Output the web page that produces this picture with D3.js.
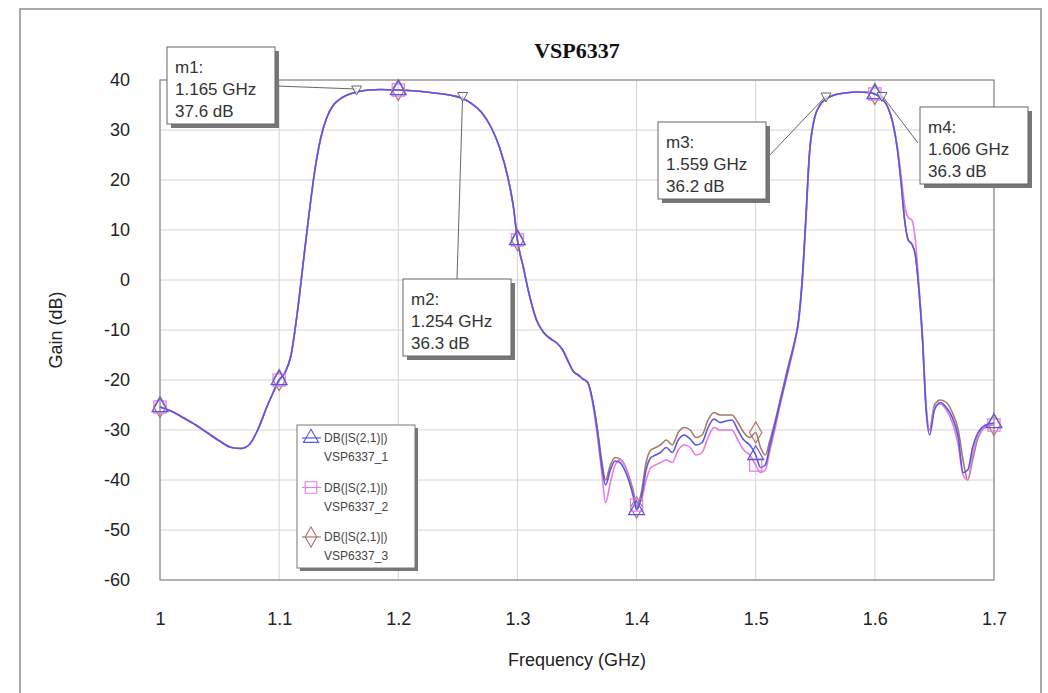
<!DOCTYPE html>
<html><head><meta charset="utf-8">
<script src="https://cdn.jsdelivr.net/npm/d3@7"></script>
<style>body{margin:0;background:#fff}svg{display:block}</style>
</head><body>
<svg id="c" width="1048" height="693"></svg>
<script>
const title = "VSP6337";
const xTicks = [1, 1.1, 1.2, 1.3, 1.4, 1.5, 1.6, 1.7];
const yTicks = [40, 30, 20, 10, 0, -10, -20, -30, -40, -50, -60];
const markerFreqs = [1.0, 1.1, 1.2, 1.3, 1.4, 1.5, 1.6, 1.7];
const freq = [
1.000,1.010,1.020,1.030,1.040,1.050,1.060,1.068,1.075,1.082,
1.090,1.095,1.100,1.105,1.110,1.115,1.120,1.125,1.130,1.135,
1.140,1.145,1.150,1.157,1.165,1.175,1.185,1.200,1.215,1.230,
1.245,1.254,1.262,1.270,1.278,1.285,1.292,1.297,1.300,1.305,
1.310,1.316,1.322,1.328,1.333,1.338,1.343,1.347,1.351,1.355,
1.359,1.363,1.367,1.371,1.374,1.378,1.382,1.386,1.390,1.394,
1.398,1.400,1.404,1.408,1.412,1.416,1.420,1.425,1.430,1.435,
1.440,1.445,1.450,1.455,1.460,1.465,1.470,1.475,1.480,1.485,
1.490,1.495,1.500,1.504,1.508,1.512,1.516,1.520,1.524,1.528,
1.532,1.536,1.539,1.542,1.545,1.549,1.554,1.559,1.566,1.575,
1.585,1.595,1.600,1.606,1.611,1.615,1.619,1.622,1.625,1.628,
1.631,1.634,1.637,1.640,1.643,1.646,1.650,1.655,1.660,1.665,
1.670,1.674,1.678,1.682,1.686,1.690,1.695,1.700];
const gain1 = [
-25.4,-26.3,-27.6,-29.0,-30.6,-32.2,-33.5,-33.7,-32.9,-30.0,
-25.2,-22.5,-20.0,-18.5,-15.0,-7.0,3.0,13.0,22.0,28.5,
32.5,34.8,36.0,37.0,37.6,38.0,38.1,38.0,37.8,37.4,
36.9,36.3,35.2,33.5,30.5,26.5,20.5,14.0,8.0,2.5,
-3.0,-8.0,-10.5,-11.8,-12.6,-14.0,-16.5,-18.3,-19.0,-19.8,
-20.5,-24.0,-30.0,-37.5,-41.0,-38.0,-36.2,-36.5,-38.0,-40.5,
-44.0,-46.0,-43.5,-38.0,-35.5,-35.0,-34.5,-33.5,-34.5,-32.0,
-31.0,-31.8,-33.0,-32.5,-29.5,-27.8,-28.5,-28.2,-28.0,-30.0,
-32.0,-33.0,-35.0,-37.5,-37.0,-33.0,-29.0,-25.0,-21.0,-17.0,
-13.0,-8.0,0.0,12.0,25.0,32.0,35.0,36.2,37.0,37.4,
37.6,37.5,37.2,36.3,34.5,31.5,26.0,19.5,12.0,8.0,
7.2,5.0,-2.0,-12.0,-26.0,-31.0,-26.0,-24.5,-25.5,-27.5,
-31.5,-38.5,-38.0,-33.5,-30.8,-29.5,-28.8,-28.6];
const gain2 = [
-25.4,-26.3,-27.6,-29.0,-30.6,-32.2,-33.5,-33.7,-32.9,-30.0,
-25.2,-22.5,-20.0,-18.5,-15.0,-7.0,3.0,13.0,22.0,28.5,
32.5,34.8,36.0,37.0,37.6,38.0,38.1,38.0,37.8,37.4,
36.9,36.3,35.2,33.5,30.5,26.5,20.5,14.0,8.0,2.5,
-3.0,-8.0,-10.5,-11.8,-12.6,-14.0,-16.5,-18.3,-19.0,-19.8,
-20.5,-24.5,-31.0,-39.0,-44.5,-40.5,-37.0,-36.0,-37.0,-40.0,
-43.5,-45.0,-44.0,-40.0,-37.5,-37.0,-36.5,-36.0,-36.5,-34.0,
-33.0,-33.5,-35.0,-34.5,-31.5,-29.5,-30.0,-30.0,-30.0,-32.0,
-34.0,-35.0,-37.0,-38.5,-38.0,-34.0,-30.0,-25.5,-21.5,-17.5,
-13.5,-8.5,-1.0,11.0,24.5,32.0,35.0,36.2,37.0,37.4,
37.6,37.5,37.2,36.3,34.5,31.5,26.5,21.0,15.0,12.5,
12.0,8.0,-1.0,-11.0,-25.0,-30.0,-25.5,-24.8,-26.0,-28.5,
-33.0,-39.0,-40.0,-35.0,-31.5,-30.0,-29.0,-29.0];
const gain3 = [
-25.4,-26.3,-27.6,-29.0,-30.6,-32.2,-33.5,-33.7,-32.9,-30.0,
-25.2,-22.5,-20.0,-18.5,-15.0,-7.0,3.0,13.0,22.0,28.5,
32.5,34.8,36.0,37.0,37.6,38.0,38.1,38.0,37.8,37.4,
36.9,36.3,35.2,33.5,30.5,26.5,20.5,14.0,8.0,2.5,
-3.0,-8.0,-10.5,-11.8,-12.6,-14.0,-16.5,-18.3,-19.0,-19.8,
-20.5,-24.0,-29.5,-36.5,-40.0,-37.0,-35.5,-35.8,-37.0,-39.5,
-43.0,-45.5,-42.5,-36.5,-34.0,-33.5,-33.0,-32.0,-33.0,-30.5,
-29.5,-30.0,-31.5,-31.0,-28.0,-26.5,-27.0,-27.0,-27.0,-28.5,
-30.5,-31.5,-30.5,-33.5,-35.0,-32.0,-28.5,-24.5,-20.5,-16.5,
-13.0,-8.0,0.0,12.0,25.0,32.0,35.0,36.2,37.0,37.4,
37.6,37.5,37.2,36.3,34.5,31.5,26.0,19.5,12.0,8.0,
7.2,5.0,-2.0,-12.0,-25.5,-30.0,-25.0,-24.0,-24.5,-26.5,
-30.0,-36.0,-40.0,-36.0,-32.0,-30.0,-29.2,-29.0];
const seriesNames = ["VSP6337_1", "VSP6337_2", "VSP6337_3"];
const seriesColors = ["#5858e0", "#e47ce4", "#a87868"];
const seriesSymbols = ["triangle", "square", "diamond"];
const mNames = ["m1", "m2", "m3", "m4"];
const mFreq = [1.165, 1.254, 1.559, 1.606];
const mGain = [37.6, 36.3, 36.2, 36.3];
const mBox = [[167,47],[403,279],[658,122],[920,107]]; // box top-left
const mAnchor = [[276,86],[457,279],[767,158],[918,143]]; // leader start

const svg = d3.select("#c");
const font = "'Liberation Sans', Arial, sans-serif";
svg.append("path").attr("d","M20,700 L20,9 L1041,9 L1041,700")
  .attr("fill","none").attr("stroke","#a8a8a8").attr("stroke-width",2);

const L=160,R=994,T=80,B=580;
const x = d3.scaleLinear().domain([1,1.7]).range([L,R]);
const y = d3.scaleLinear().domain([-60,40]).range([B,T]);

const g = svg.append("g");
g.selectAll("line.vx").data(xTicks).join("line")
  .attr("x1",d=>x(d)).attr("x2",d=>x(d)).attr("y1",T).attr("y2",B)
  .attr("stroke","#d4d4d4").attr("stroke-width",1);
g.selectAll("line.hy").data(yTicks).join("line")
  .attr("y1",d=>y(d)).attr("y2",d=>y(d)).attr("x1",L).attr("x2",R)
  .attr("stroke","#d4d4d4").attr("stroke-width",1);
svg.append("rect").attr("x",L).attr("y",T).attr("width",R-L).attr("height",B-T)
  .attr("fill","none").attr("stroke","#8c8c8c").attr("stroke-width",1.2);

const xAxis = svg.append("g").attr("transform",`translate(0,${B})`)
  .call(d3.axisBottom(x).tickValues(xTicks).tickFormat(d=>String(d)).tickSize(0).tickPadding(32));
const yAxis = svg.append("g").attr("transform",`translate(${L},0)`)
  .call(d3.axisLeft(y).tickValues(yTicks).tickFormat(d=>String(d)).tickSize(0).tickPadding(30));
[xAxis,yAxis].forEach(a=>{
  a.select(".domain").remove();
  a.selectAll("text").attr("font-family",font).attr("font-size",18).attr("fill","#222");
});

svg.append("text").attr("x",577).attr("y",58).attr("text-anchor","middle")
  .attr("font-family","'Liberation Serif', 'Times New Roman', serif").attr("font-weight","bold")
  .attr("font-size",22).attr("fill","#111").text(title);
svg.append("text").attr("x",577).attr("y",666).attr("text-anchor","middle")
  .attr("font-family",font).attr("font-size",18).attr("fill","#222").text("Frequency (GHz)");
svg.append("text").attr("transform","translate(62,330) rotate(-90)").attr("text-anchor","middle")
  .attr("font-family",font).attr("font-size",18).attr("fill","#222").text("Gain (dB)");

const gains = [gain1, gain2, gain3];
const symMap = {triangle:d3.symbolTriangle, square:d3.symbolSquare, diamond:d3.symbolDiamond};
const symSize = {triangle:110, square:150, diamond:130};
const line = d3.line().x(d=>x(d[0])).y(d=>y(d[1])).curve(d3.curveMonotoneX);
const plot = svg.append("g");
[2,1,0].forEach(i=>{
  const data = freq.map((f,k)=>[f,gains[i][k]]);
  plot.append("path").datum(data).attr("d",line).attr("fill","none")
    .attr("stroke",seriesColors[i]).attr("stroke-width",1.6).attr("stroke-linejoin","round");
});
[2,1,0].forEach(i=>{
  const data = freq.map((f,k)=>[f,gains[i][k]]).filter(d=>markerFreqs.some(m=>Math.abs(m-d[0])<1e-9));
  plot.selectAll(null).data(data).join("path")
    .attr("d",d3.symbol(symMap[seriesSymbols[i]],symSize[seriesSymbols[i]]))
    .attr("transform",d=>`translate(${x(d[0])},${y(d[1])})`)
    .attr("fill","none").attr("stroke",seriesColors[i]).attr("stroke-width",1.2);
});

const ann = svg.append("g");
mNames.forEach((n,i)=>{
  const px=x(mFreq[i]), py=y(mGain[i]);
  ann.append("line").attr("x1",mAnchor[i][0]).attr("y1",mAnchor[i][1]).attr("x2",px).attr("y2",py-3)
    .attr("stroke","#555").attr("stroke-width",0.9);
  ann.append("path").attr("d",`M${px-5},${py-6} L${px+5},${py-6} L${px},${py+3} Z`)
    .attr("fill","white").attr("fill-opacity",0.6).attr("stroke","#666").attr("stroke-width",1);
  const bx=mBox[i][0], by=mBox[i][1], bw=108, bh=77;
  ann.append("rect").attr("x",bx+4).attr("y",by+4).attr("width",bw).attr("height",bh).attr("fill","#777");
  ann.append("rect").attr("x",bx).attr("y",by).attr("width",bw).attr("height",bh)
    .attr("fill","white").attr("stroke","#666").attr("stroke-width",1);
  const lines=[n+":", mFreq[i].toFixed(3)+" GHz", mGain[i].toFixed(1)+" dB"];
  lines.forEach((t,j)=>{
    ann.append("text").attr("x",bx+8).attr("y",by+26+j*22).attr("font-family",font)
      .attr("font-size",17).attr("fill","#333").text(t);
  });
});

const lg = svg.append("g");
lg.append("rect").attr("x",300).attr("y",428).attr("width",118).attr("height",143).attr("fill","#777");
lg.append("rect").attr("x",297).attr("y",425).attr("width",118).attr("height",143)
  .attr("fill","white").attr("stroke","#777").attr("stroke-width",1);
seriesNames.forEach((s,i)=>{
  const cy = 438 + i*49.5;
  lg.append("line").attr("x1",302).attr("x2",321).attr("y1",cy).attr("y2",cy)
    .attr("stroke",seriesColors[i]).attr("stroke-width",1.2);
  lg.append("path").attr("d",d3.symbol(symMap[seriesSymbols[i]],symSize[seriesSymbols[i]]*0.9))
    .attr("transform",`translate(311,${cy})`).attr("fill","none").attr("stroke",seriesColors[i]).attr("stroke-width",1.1);
  lg.append("text").attr("x",324).attr("y",cy+4).attr("font-family",font).attr("font-size",12)
    .attr("fill","#444").text("DB(|S(2,1)|)");
  lg.append("text").attr("x",324).attr("y",cy+23).attr("font-family",font).attr("font-size",12)
    .attr("fill","#444").text(s);
});
</script>
</body></html>
